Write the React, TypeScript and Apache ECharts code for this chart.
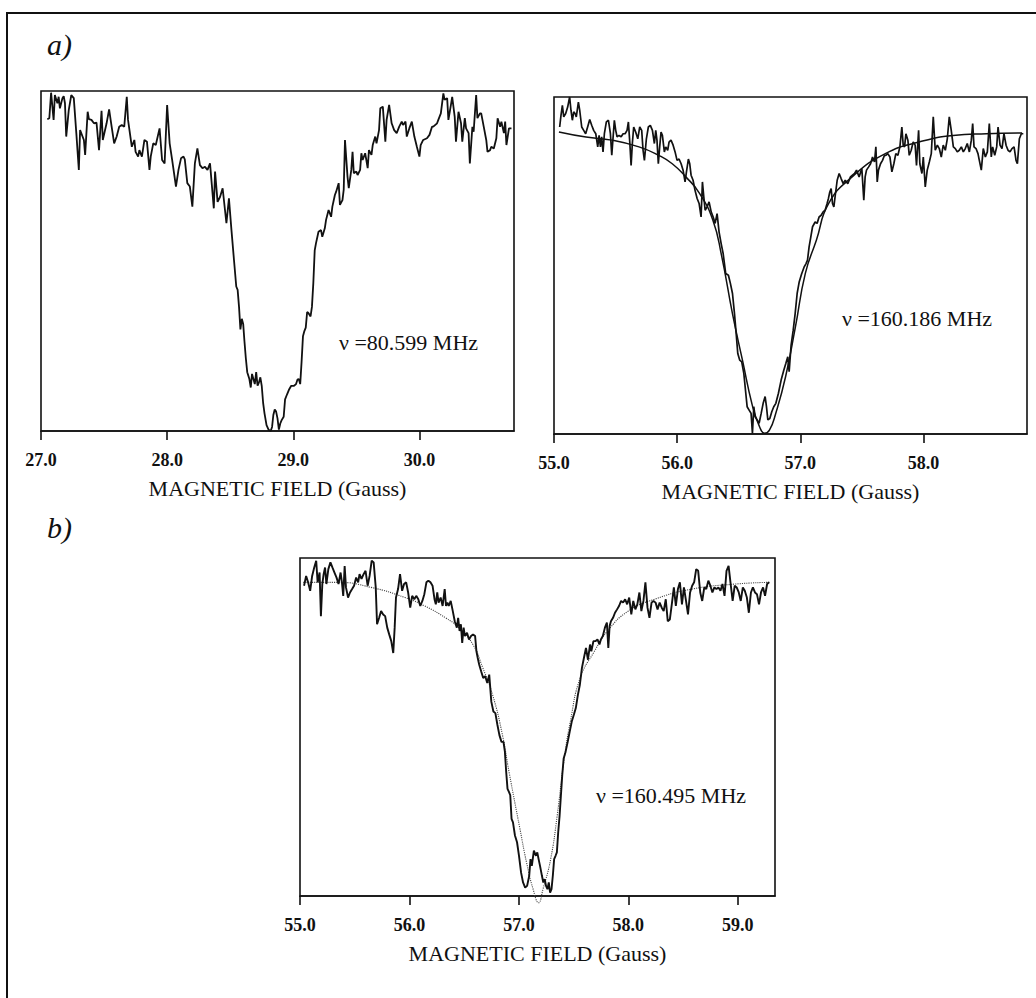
import React, { useEffect, useRef } from "react";
import * as echarts from "echarts";

// ---------- data (x: magnetic field in Gauss, y: relative signal 0..100) ----------
const panelATicks = [27.0, 28.0, 29.0, 30.0];
const panelBTicks = [55.0, 56.0, 57.0, 58.0];
const panelCTicks = [55.0, 56.0, 57.0, 58.0, 59.0];

const freqLabels = ["ν =80.599 MHz", "ν =160.186 MHz", "ν =160.495 MHz"];
const axisTitle = "MAGNETIC FIELD (Gauss)";

const signal80 = [
  [27.05, 91.7], [27.066, 92.0], [27.08, 99.5], [27.1, 91.5], [27.11, 98.8], [27.13, 96.4], [27.14, 98.3], [27.15, 94.9],
  [27.17, 97.9], [27.18, 98.5], [27.19, 96.4], [27.2, 86.6], [27.22, 94.4], [27.24, 98.8], [27.26, 97.9], [27.28, 87.6],
  [27.3, 76.8], [27.31, 88.5], [27.34, 85.6], [27.35, 81.2], [27.37, 93.9], [27.38, 91.7], [27.4, 91.5], [27.42, 90.5],
  [27.44, 90.7], [27.46, 82.6], [27.48, 94.2], [27.49, 85.6], [27.52, 90.5], [27.54, 94.6], [27.56, 89.5], [27.58, 84.6],
  [27.6, 86.6], [27.62, 89.5], [27.64, 90.0], [27.66, 89.5], [27.68, 98.3], [27.69, 91.5], [27.72, 83.6], [27.74, 85.6],
  [27.75, 82.1], [27.77, 80.7], [27.78, 82.6], [27.8, 80.7], [27.82, 85.6], [27.84, 85.1], [27.86, 76.8], [27.87, 80.7],
  [27.89, 84.6], [27.91, 84.1], [27.94, 89.0], [27.96, 79.7], [27.98, 78.7], [28.0, 95.9], [28.02, 84.6], [28.04, 79.7],
  [28.07, 71.9], [28.09, 76.8], [28.11, 80.2], [28.13, 80.7], [28.14, 79.9], [28.16, 72.9], [28.18, 71.9], [28.2, 66.0],
  [28.22, 78.7], [28.24, 83.1], [28.26, 78.2], [28.28, 77.3], [28.3, 77.7], [28.32, 76.8], [28.34, 78.7], [28.37, 65.5],
  [28.38, 76.3], [28.4, 67.4], [28.42, 68.9], [28.44, 71.4], [28.47, 61.1], [28.49, 68.4], [28.51, 59.1], [28.53, 50.3],
  [28.548, 42.5], [28.559, 41.5], [28.57, 36.5], [28.581, 29.9], [28.592, 33.0], [28.603, 31.5], [28.613, 26.4],
  [28.624, 21.4], [28.635, 17.3], [28.652, 15.3], [28.663, 12.8], [28.673, 16.8], [28.684, 15.3], [28.695, 13.8],
  [28.706, 17.3], [28.717, 13.3], [28.728, 14.3], [28.739, 15.8], [28.75, 13.3], [28.761, 8.3], [28.772, 5.2],
  [28.788, 1.7], [28.804, 0.4], [28.821, 0], [28.832, 1.2], [28.842, 4.7], [28.853, 6.3], [28.864, 5.7], [28.875, 3.7],
  [28.886, 0.4], [28.897, 2.2], [28.908, 3.2], [28.924, 4.2], [28.935, 9.3], [28.951, 10.8], [28.968, 12.3],
  [28.984, 13.3], [29.006, 13.3], [29.022, 13.8], [29.033, 15.1], [29.044, 15.3], [29.055, 13.8], [29.066, 20.4],
  [29.077, 27.9], [29.088, 29.4], [29.099, 30.4], [29.11, 35.0], [29.12, 34.7], [29.137, 33.7], [29.148, 36.5],
  [29.159, 43.5], [29.17, 53.1], [29.18, 55.2], [29.2, 58.6], [29.22, 59.1], [29.23, 57.1], [29.25, 59.6], [29.26, 62.1],
  [29.28, 65.0], [29.3, 63.0], [29.31, 66.0], [29.33, 69.4], [29.34, 70.4], [29.36, 72.9], [29.37, 66.5], [29.39, 67.9],
  [29.4, 71.0], [29.41, 85.6], [29.43, 74.8], [29.44, 71.4], [29.46, 76.8], [29.47, 82.1], [29.48, 75.8], [29.5, 76.3],
  [29.51, 75.3], [29.53, 76.8], [29.54, 81.7], [29.55, 79.7], [29.57, 81.7], [29.59, 77.3], [29.6, 82.6], [29.62, 81.2],
  [29.63, 84.1], [29.65, 86.6], [29.66, 84.6], [29.68, 88.5], [29.69, 94.9], [29.71, 95.4], [29.73, 85.1], [29.74, 91.5],
  [29.76, 95.9], [29.78, 90.5], [29.8, 88.5], [29.82, 87.6], [29.84, 89.5], [29.86, 91.0], [29.87, 90.0], [29.89, 91.0],
  [29.9, 86.6], [29.92, 89.0], [29.94, 91.0], [29.96, 86.6], [29.98, 83.6], [30.0, 80.7], [30.01, 84.1], [30.03, 85.6],
  [30.06, 86.1], [30.08, 87.1], [30.1, 89.5], [30.11, 89.5], [30.14, 90.5], [30.15, 91.5], [30.17, 93.4], [30.19, 99.3],
  [30.2, 97.4], [30.22, 97.9], [30.23, 91.5], [30.25, 95.9], [30.26, 98.3], [30.28, 92.4], [30.29, 85.1], [30.31, 93.9],
  [30.33, 90.5], [30.34, 85.1], [30.36, 92.0], [30.37, 89.0], [30.39, 87.6], [30.4, 78.7], [30.42, 89.5], [30.43, 88.0],
  [30.45, 98.8], [30.46, 92.0], [30.48, 93.4], [30.49, 93.4], [30.51, 89.5], [30.53, 85.6], [30.54, 82.1], [30.56, 82.6],
  [30.57, 83.6], [30.59, 83.1], [30.61, 86.1], [30.62, 92.0], [30.64, 89.5], [30.65, 91.0], [30.67, 87.6], [30.68, 91.0],
  [30.69, 84.1], [30.71, 89.0], [30.73, 89.0],
];

const signal160a = [
  [55.046, 91.1], [55.057, 94.6], [55.068, 97.5], [55.079, 94.1], [55.095, 95.1], [55.111, 97.0], [55.127, 100],
  [55.138, 96.0], [55.149, 93.1], [55.16, 95.6], [55.171, 95.1], [55.181, 94.1], [55.198, 98.5], [55.209, 96.0],
  [55.225, 91.1], [55.241, 90.1], [55.257, 89.1], [55.273, 91.1], [55.29, 93.3], [55.306, 91.6], [55.322, 90.1],
  [55.339, 89.1], [55.355, 85.2], [55.366, 88.6], [55.377, 85.2], [55.387, 88.2], [55.398, 83.7], [55.409, 89.1],
  [55.425, 92.6], [55.442, 93.1], [55.458, 89.1], [55.469, 82.7], [55.48, 88.2], [55.49, 93.1], [55.501, 90.1],
  [55.512, 88.2], [55.528, 88.6], [55.545, 88.2], [55.561, 89.1], [55.577, 89.1], [55.593, 90.1], [55.604, 92.6],
  [55.615, 86.7], [55.626, 79.7], [55.636, 86.2], [55.647, 91.1], [55.663, 89.6], [55.68, 87.6], [55.696, 91.1],
  [55.712, 90.1], [55.723, 84.2], [55.734, 81.2], [55.75, 87.6], [55.766, 91.1], [55.782, 91.6], [55.799, 90.1],
  [55.815, 86.2], [55.826, 90.1], [55.836, 87.2], [55.847, 80.2], [55.858, 85.2], [55.869, 89.6], [55.88, 88.6],
  [55.896, 83.7], [55.907, 85.2], [55.923, 84.2], [55.934, 86.6], [55.95, 87.2], [55.967, 85.7], [55.983, 83.7],
  [55.999, 81.2], [56.015, 81.6], [56.032, 80.2], [56.048, 78.3], [56.064, 74.8], [56.075, 77.7], [56.091, 81.6],
  [56.102, 80.2], [56.113, 76.8], [56.129, 75.3], [56.145, 72.3], [56.162, 69.9], [56.178, 68.4], [56.194, 64.4],
  [56.205, 74.8], [56.216, 70.4], [56.227, 66.4], [56.243, 67.4], [56.259, 68.9], [56.276, 65.9], [56.292, 64.4],
  [56.308, 62.5], [56.324, 65.4], [56.34, 60.0], [56.357, 56.5], [56.373, 53.6], [56.394, 47.6], [56.416, 47.1],
  [56.432, 44.7], [56.449, 41.7], [56.465, 35.8], [56.481, 28.9], [56.492, 23.9], [56.508, 21.9], [56.524, 21.4],
  [56.541, 18.0], [56.557, 12.1], [56.568, 8.1], [56.584, 7.1], [56.6, 6.1], [56.611, 0.2], [56.622, 8.1],
  [56.633, 5.1], [56.649, 4.2], [56.665, 3.2], [56.682, 6.1], [56.698, 9.1], [56.714, 11.1], [56.725, 8.1],
  [56.736, 4.2], [56.752, 4.6], [56.768, 6.6], [56.784, 8.1], [56.801, 9.1], [56.822, 12.1], [56.844, 16.0],
  [56.866, 19.0], [56.882, 20.9], [56.898, 22.9], [56.909, 18.5], [56.925, 26.4], [56.942, 30.8], [56.958, 35.8],
  [56.974, 41.7], [56.99, 45.0], [57.01, 47.5], [57.03, 49.5], [57.045, 50.5], [57.058, 51.6], [57.071, 55.5],
  [57.085, 58.5], [57.099, 61.5], [57.12, 62.9], [57.136, 62.5], [57.152, 64.4], [57.169, 64.9], [57.185, 65.9],
  [57.201, 66.4], [57.217, 68.4], [57.228, 69.9], [57.239, 71.8], [57.25, 72.8], [57.261, 68.4], [57.272, 67.4],
  [57.282, 70.4], [57.299, 75.3], [57.315, 77.3], [57.331, 75.8], [57.348, 74.3], [57.364, 75.3], [57.385, 74.3],
  [57.407, 76.3], [57.423, 76.8], [57.44, 77.3], [57.456, 78.3], [57.477, 76.3], [57.499, 78.8], [57.515, 69.4],
  [57.526, 76.3], [57.537, 78.3], [57.553, 79.2], [57.57, 80.2], [57.586, 82.2], [57.602, 80.7], [57.613, 85.2],
  [57.624, 74.8], [57.634, 78.3], [57.651, 80.2], [57.667, 81.2], [57.683, 82.7], [57.694, 82.7], [57.71, 83.2],
  [57.727, 82.2], [57.743, 77.8], [57.759, 80.2], [57.775, 83.2], [57.792, 82.7], [57.808, 85.2], [57.824, 91.1],
  [57.835, 85.7], [57.846, 85.2], [57.857, 89.1], [57.873, 87.2], [57.884, 82.7], [57.9, 84.2], [57.916, 86.7],
  [57.932, 85.7], [57.943, 79.7], [57.96, 90.1], [57.97, 80.2], [57.987, 77.3], [57.998, 82.2], [58.014, 73.3],
  [58.03, 78.3], [58.047, 80.7], [58.063, 83.2], [58.079, 94.1], [58.095, 84.2], [58.112, 85.7], [58.128, 84.7],
  [58.144, 82.2], [58.16, 85.7], [58.177, 84.2], [58.193, 87.6], [58.209, 94.1], [58.225, 90.1], [58.242, 85.2],
  [58.258, 84.7], [58.274, 83.7], [58.29, 84.2], [58.307, 85.2], [58.323, 83.7], [58.339, 84.7], [58.355, 86.2],
  [58.372, 83.7], [58.388, 87.2], [58.399, 92.1], [58.41, 85.2], [58.426, 84.7], [58.442, 83.2], [58.453, 81.2],
  [58.469, 78.3], [58.485, 84.7], [58.502, 82.2], [58.518, 83.7], [58.534, 92.1], [58.55, 82.2], [58.561, 85.2],
  [58.578, 82.7], [58.594, 85.2], [58.605, 91.1], [58.621, 85.7], [58.637, 84.7], [58.653, 89.1], [58.67, 85.7],
  [58.686, 84.2], [58.702, 83.7], [58.718, 84.7], [58.735, 85.2], [58.751, 81.2], [58.762, 80.2], [58.778, 87.6],
  [58.794, 89.1], [58.81, 89.1],
];

const fit160a = [
  [55.04, 89.6], [55.26, 88.1], [55.47, 87.2], [55.69, 85.2], [55.85, 82.7], [55.96, 80.2], [56.07, 76.3],
  [56.18, 71.5], [56.29, 63.4], [56.36, 53.0], [56.45, 35.5], [56.53, 21.9], [56.61, 8.5], [56.665, 2.5],
  [56.71, 0.2], [56.75, 1.2], [56.8, 6.1], [56.88, 17.0], [56.96, 31.8], [57.04, 47.6], [57.13, 57.5],
  [57.23, 68.4], [57.42, 76.3], [57.69, 83.2], [57.97, 86.7], [58.24, 88.6], [58.51, 89.1], [58.8, 89.3],
];

const signal160b = [
  [55.037, 91.8], [55.056, 94.7], [55.074, 92.8], [55.093, 90.3], [55.111, 94.7], [55.13, 97.2], [55.148, 99.2],
  [55.161, 92.8], [55.179, 95.7], [55.191, 82.8], [55.204, 92.3], [55.216, 95.2], [55.229, 97.2], [55.241, 92.3],
  [55.259, 96.7], [55.278, 98.7], [55.296, 97.2], [55.315, 95.7], [55.334, 94.2], [55.352, 92.3], [55.371, 95.7],
  [55.383, 92.8], [55.395, 88.8], [55.408, 97.6], [55.42, 91.3], [55.439, 88.3], [55.457, 89.8], [55.476, 90.8],
  [55.494, 91.8], [55.513, 94.2], [55.531, 92.8], [55.544, 95.2], [55.562, 93.8], [55.581, 95.2], [55.599, 96.2],
  [55.618, 91.8], [55.636, 94.7], [55.655, 99.2], [55.673, 98.7], [55.692, 91.3], [55.704, 80.4], [55.723, 82.3],
  [55.741, 84.3], [55.76, 83.3], [55.778, 82.8], [55.797, 79.4], [55.815, 77.4], [55.834, 75.4], [55.852, 71.9],
  [55.865, 79.4], [55.877, 88.3], [55.896, 90.8], [55.914, 95.2], [55.933, 90.3], [55.951, 92.3], [55.97, 92.8],
  [55.988, 89.8], [56.007, 85.3], [56.025, 88.8], [56.044, 87.8], [56.062, 88.8], [56.081, 87.8], [56.099, 85.8],
  [56.118, 87.3], [56.136, 89.3], [56.155, 92.8], [56.173, 93.3], [56.192, 92.8], [56.211, 91.8], [56.229, 87.8],
  [56.241, 86.3], [56.254, 89.8], [56.266, 86.8], [56.285, 88.3], [56.303, 85.8], [56.322, 90.8], [56.334, 85.8],
  [56.347, 86.8], [56.359, 85.8], [56.377, 87.3], [56.396, 84.3], [56.414, 81.3], [56.433, 79.4], [56.445, 82.3],
  [56.458, 78.4], [56.47, 80.4], [56.482, 74.9], [56.495, 79.4], [56.507, 76.9], [56.526, 77.9], [56.544, 75.9],
  [56.563, 76.9], [56.581, 77.4], [56.6, 76.9], [56.612, 72.4], [56.624, 70.4], [56.637, 68.5], [56.655, 66.5],
  [56.674, 64.5], [56.692, 65.0], [56.711, 63.0], [56.729, 65.5], [56.748, 57.5], [56.767, 54.6], [56.785, 54.1],
  [56.804, 50.6], [56.822, 47.6], [56.841, 45.6], [56.859, 45.6], [56.872, 42.7], [56.884, 36.7], [56.896, 31.7],
  [56.909, 30.8], [56.921, 29.8], [56.933, 22.8], [56.946, 21.8], [56.964, 17.9], [56.983, 15.9], [57.001, 11.9],
  [57.02, 6.9], [57.038, 4.0], [57.057, 2.5], [57.075, 3.0], [57.094, 5.9], [57.106, 10.9], [57.118, 8.9],
  [57.137, 13.4], [57.156, 11.9], [57.168, 12.9], [57.18, 10.9], [57.193, 8.9], [57.211, 5.9], [57.223, 4.0],
  [57.236, 5.0], [57.248, 3.0], [57.261, 2.0], [57.273, 4.0], [57.285, 1.0], [57.298, 2.0], [57.31, 6.0],
  [57.322, 10.9], [57.335, 11.9], [57.347, 12.9], [57.359, 18.8], [57.372, 23.8], [57.384, 29.8], [57.396, 35.7],
  [57.409, 40.7], [57.427, 42.7], [57.446, 45.6], [57.464, 48.6], [57.483, 51.6], [57.502, 53.6], [57.52, 55.6],
  [57.539, 59.5], [57.557, 62.5], [57.576, 67.5], [57.594, 70.4], [57.613, 73.4], [57.631, 69.9], [57.65, 74.4],
  [57.662, 72.4], [57.681, 75.4], [57.699, 75.4], [57.718, 75.9], [57.736, 74.4], [57.749, 75.9], [57.767, 76.9],
  [57.786, 79.4], [57.804, 80.9], [57.817, 73.4], [57.829, 79.9], [57.841, 81.3], [57.86, 82.3], [57.878, 83.8],
  [57.897, 84.8], [57.915, 85.8], [57.934, 87.3], [57.952, 86.8], [57.971, 87.8], [57.989, 86.3], [58.008, 88.3],
  [58.027, 83.3], [58.045, 87.3], [58.064, 84.8], [58.082, 86.3], [58.101, 89.8], [58.119, 84.3], [58.138, 87.3],
  [58.156, 92.8], [58.175, 85.3], [58.193, 82.3], [58.212, 86.8], [58.23, 87.3], [58.249, 86.8], [58.267, 84.8],
  [58.286, 86.8], [58.305, 85.3], [58.323, 84.3], [58.342, 87.8], [58.36, 81.3], [58.379, 81.8], [58.397, 86.3],
  [58.416, 91.3], [58.434, 85.8], [58.453, 90.8], [58.471, 92.8], [58.49, 86.3], [58.508, 91.3], [58.527, 87.3],
  [58.545, 83.3], [58.564, 89.8], [58.583, 91.8], [58.601, 92.8], [58.62, 96.7], [58.638, 96.2], [58.657, 89.8],
  [58.675, 87.3], [58.694, 91.3], [58.712, 90.8], [58.731, 93.3], [58.749, 91.8], [58.768, 89.8], [58.786, 91.3],
  [58.805, 90.8], [58.823, 91.3], [58.842, 90.3], [58.86, 92.3], [58.879, 88.8], [58.897, 96.2], [58.916, 97.7],
  [58.935, 92.3], [58.953, 87.3], [58.972, 91.8], [58.99, 91.3], [59.009, 89.8], [59.027, 87.3], [59.046, 91.3],
  [59.064, 90.3], [59.083, 88.3], [59.101, 83.8], [59.12, 89.8], [59.138, 91.3], [59.157, 89.8], [59.175, 89.3],
  [59.194, 86.3], [59.212, 89.8], [59.231, 91.3], [59.249, 88.8], [59.268, 92.3], [59.286, 92.8],
];

const fit160b = [
  [55.03, 92.8], [55.34, 92.8], [55.65, 91.3], [55.96, 88.3], [56.14, 85.8], [56.33, 82.3], [56.45, 79.4],
  [56.58, 74.4], [56.67, 67.5], [56.76, 59.5], [56.85, 47.6], [56.91, 36.7], [57.01, 19.8], [57.07, 9.9],
  [57.13, 2.0], [57.18, -2.0], [57.22, 2.0], [57.29, 10.9], [57.35, 23.8], [57.41, 39.7], [57.47, 51.6],
  [57.56, 64.5], [57.69, 72.4], [57.81, 78.4], [58.0, 84.3], [58.24, 87.8], [58.58, 90.8], [58.98, 92.3],
  [59.29, 92.8],
];

// ---------- styling helpers ----------
const INK = "#111111";
const SERIF = '"Liberation Serif", "DejaVu Serif", serif';

function makeXAxis(gridIndex: number, min: number, max: number) {
  return {
    type: "value",
    gridIndex,
    min,
    max,
    interval: 1,
    axisLine: { show: true, onZero: false, lineStyle: { color: INK, width: 1.6 } },
    axisTick: { show: true, inside: false, length: 9, lineStyle: { color: INK, width: 1.6 } },
    axisLabel: {
      show: true,
      margin: 20,
      color: INK,
      fontFamily: SERIF,
      fontSize: 18,
      fontWeight: "bold",
      formatter: (v: number) => v.toFixed(1),
      showMaxLabel: false,
    },
    splitLine: { show: false },
    name: axisTitle,
    nameLocation: "middle",
    nameGap: 46,
    nameTextStyle: { color: INK, fontFamily: SERIF, fontSize: 22 },
  };
}

function makeYAxis(gridIndex: number) {
  return { type: "value", gridIndex, min: 0, max: 100, show: false };
}

function lineSeries(i: number, data: number[][], width: number, type: string = "solid", color: string = INK, smooth = false) {
  return {
    type: "line",
    xAxisIndex: i,
    yAxisIndex: i,
    data,
    showSymbol: false,
    symbol: "none",
    smooth,
    clip: false,
    lineStyle: { color, width, type },
    z: 3,
  };
}

export default function App() {
  const ref = useRef<HTMLDivElement>(null);

  useEffect(() => {
    if (!ref.current) return;
    const chart = echarts.init(ref.current, undefined, { renderer: "svg" });
    const gridStyle = { show: true, borderColor: INK, borderWidth: 1.6, backgroundColor: "transparent", containLabel: false };
    const labelFont = `22px ${SERIF}`;
    const option = {
      animation: false,
      backgroundColor: "#ffffff",
      grid: [
        { ...gridStyle, left: 41, top: 91, width: 473, height: 340 },
        { ...gridStyle, left: 554, top: 97, width: 473, height: 337 },
        { ...gridStyle, left: 300, top: 558, width: 475, height: 338 },
      ],
      xAxis: [
        makeXAxis(0, panelATicks[0], 30.75),
        makeXAxis(1, panelBTicks[0], 58.84),
        makeXAxis(2, panelCTicks[0], 59.34),
      ],
      yAxis: [makeYAxis(0), makeYAxis(1), makeYAxis(2)],
      series: [
        lineSeries(0, signal80, 1.8),
        lineSeries(1, fit160a, 1.5, "solid", INK, true),
        lineSeries(1, signal160a, 1.7),
        lineSeries(2, fit160b, 1.1, "dotted", "#444", true),
        lineSeries(2, signal160b, 1.9),
      ],
      graphic: [
        {
          type: "rect",
          shape: { x: 7, y: 13, width: 1100, height: 1100 },
          style: { fill: "none", stroke: INK, lineWidth: 2 },
          silent: true,
        },
        {
          type: "text",
          x: 47,
          y: 44,
          style: { text: "a)", font: `italic 30px ${SERIF}`, fill: INK, textVerticalAlign: "middle" },
        },
        {
          type: "text",
          x: 47,
          y: 527,
          style: { text: "b)", font: `italic 30px ${SERIF}`, fill: INK, textVerticalAlign: "middle" },
        },
        {
          type: "text",
          x: 339,
          y: 342,
          style: { text: freqLabels[0], font: labelFont, fill: INK, textVerticalAlign: "middle" },
        },
        {
          type: "text",
          x: 842,
          y: 318,
          style: { text: freqLabels[1], font: labelFont, fill: INK, textVerticalAlign: "middle" },
        },
        {
          type: "text",
          x: 596,
          y: 795,
          style: { text: freqLabels[2], font: labelFont, fill: INK, textVerticalAlign: "middle" },
        },
      ],
    };
    chart.setOption(option as any);
    return () => chart.dispose();
  }, []);

  return (
    <div
      ref={ref}
      style={{ position: "absolute", left: 0, top: 0, width: 1036, height: 998, background: "#fff" }}
    />
  );
}
